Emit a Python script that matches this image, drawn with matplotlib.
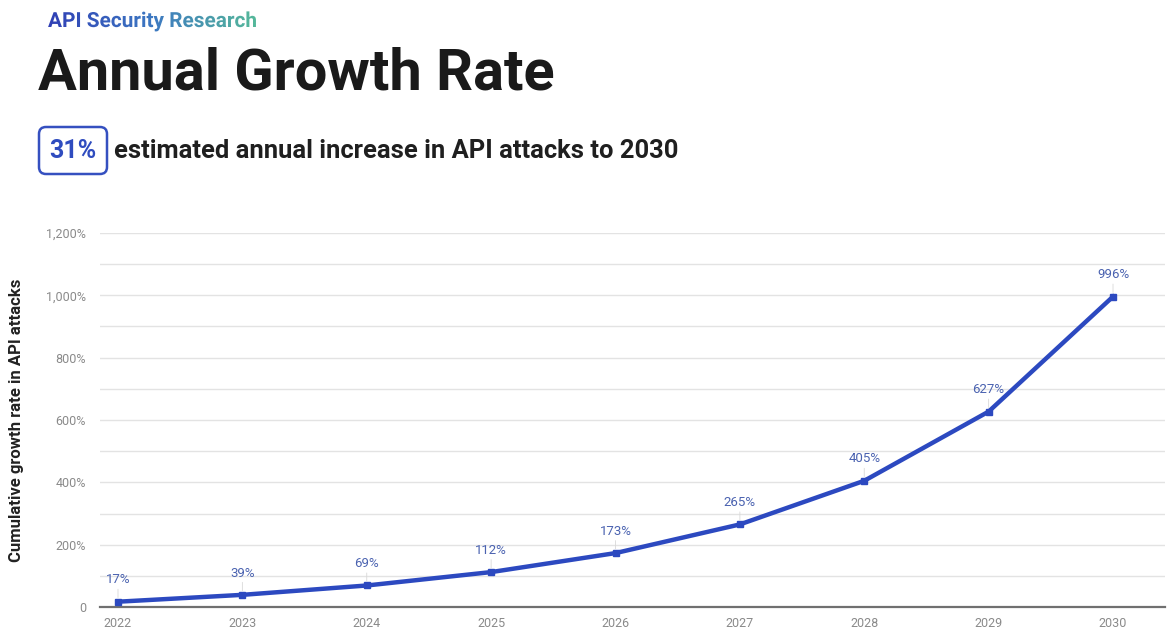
import matplotlib
matplotlib.use("Agg")
import matplotlib.pyplot as plt
import numpy as np
from matplotlib.textpath import TextPath
from matplotlib.font_manager import FontProperties
from matplotlib.patches import PathPatch, FancyBboxPatch
from matplotlib.transforms import Affine2D
from matplotlib.ticker import FuncFormatter, MultipleLocator
from matplotlib.colors import LinearSegmentedColormap

years = [2022, 2023, 2024, 2025, 2026, 2027, 2028, 2029, 2030]
growth = [17, 39, 69, 112, 173, 265, 405, 627, 996]
labels = ["17%", "39%", "69%", "112%", "173%", "265%", "405%", "627%", "996%"]

W, H = 1168, 628
fig = plt.figure(figsize=(W / 100, H / 100), dpi=100)
plt.rcParams['font.family'] = ['Roboto', 'DejaVu Sans']

LINE = "#2c49c0"
LABEL = "#4a62b0"
GRAY = "#8a8a8a"

ax = fig.add_axes([100 / W, 1 - 607 / H, (1165 - 100) / W, (607 - 233) / H])
ax.set_ylim(0, 1200)
sp = 124.4
ax.set_xlim(2022 - 18 / sp, 2030 + 52 / sp)
ax.set_xticks(years)
ax.set_xticklabels([str(y) for y in years])
ax.yaxis.set_major_locator(MultipleLocator(200))
ax.yaxis.set_minor_locator(MultipleLocator(100))
ax.yaxis.set_major_formatter(FuncFormatter(lambda v, p: "0" if v == 0 else f"{int(v):,}%"))
ax.grid(axis='y', which='both', color="#e3e3e3", linewidth=1.0)
ax.grid(axis='x', visible=False)
ax.set_axisbelow(True)
for s in ['top', 'right', 'left']:
    ax.spines[s].set_visible(False)
ax.spines['bottom'].set_color("#707070")
ax.spines['bottom'].set_linewidth(1.6)
ax.tick_params(axis='both', which='both', length=0, colors=GRAY, labelsize=9)
ax.tick_params(axis='x', pad=7)
ax.tick_params(axis='y', pad=10)

ax.plot(years, growth, color=LINE, linewidth=3.2, marker='s', markersize=5,
        solid_joinstyle='round', zorder=3)
for x, y, t in zip(years, growth, labels):
    ax.annotate(t, (x, y), xytext=(0, 11), textcoords='offset points',
                ha='center', va='bottom', fontsize=9.5, color=LABEL,
                arrowprops=dict(arrowstyle='-', color="#d8d8d8", lw=0.6,
                                shrinkA=0, shrinkB=3))

ax.set_ylabel("Cumulative growth rate in API attacks", fontsize=12, fontweight='bold',
              color="#222222")
ax.yaxis.set_label_coords(-76 / (1165 - 100), 0.5)

# Title
fig.text(38 / W, 1 - 89 / H, "Annual Growth Rate", fontsize=41.6, fontweight='bold',
         color="#1a1a1a", ha='left', va='baseline')

# Overlay axes in pixel coordinates
gax = fig.add_axes([0, 0, 1, 1], zorder=5)
gax.set_xlim(0, W)
gax.set_ylim(0, H)
gax.axis('off')
gax.patch.set_alpha(0)

# Gradient subtitle
fp = FontProperties(family='Roboto', weight='bold', size=15)
tp = TextPath((0, 0), "API Security Research", prop=fp)
scale = 100 / 72.0
x0, ybase = 48, H - 27
trans = Affine2D().scale(scale).translate(x0, ybase)
bb = tp.get_extents()
width_px = bb.width * scale
grad = np.linspace(0, 1, 256).reshape(1, -1)
cmap = LinearSegmentedColormap.from_list("g", ["#3040b5", "#3d78c2", "#55b89a"])
img = gax.imshow(grad, cmap=cmap, extent=[x0, x0 + width_px, ybase - 8, ybase + 22],
                 aspect='auto', interpolation='bilinear')
patch = PathPatch(tp, transform=trans + gax.transData, facecolor='none', edgecolor='none')
gax.add_patch(patch)
img.set_clip_path(patch)

# Box with 31%
box = FancyBboxPatch((39, H - 174), 68, 47, boxstyle="round,pad=0,rounding_size=7",
                     transform=gax.transData, facecolor='white', edgecolor="#3550c0",
                     linewidth=1.8)
gax.add_patch(box)
gax.text(73, H - 150.5, "31%", fontsize=18, fontweight='bold', color="#2f4cbf",
         ha='center', va='center')
gax.text(114, H - 150.5, "estimated annual increase in API attacks to 2030", fontsize=18.4,
         fontweight='bold', color="#1f1f1f", ha='left', va='center')

fig.savefig("out.png", dpi=100)
